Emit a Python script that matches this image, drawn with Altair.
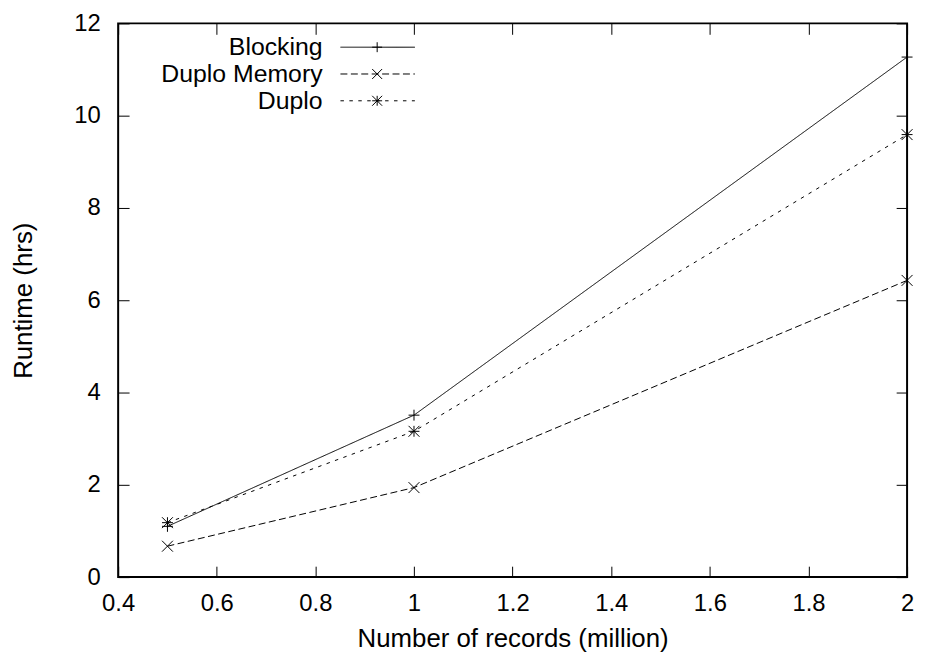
import altair as alt
import pandas as pd

# ---- data ----
records = [0.5, 1.0, 2.0]
blocking = [1.10, 3.51, 11.27]
duplo_memory = [0.67, 1.94, 6.43]
duplo = [1.18, 3.16, 9.59]

series_names = ["Blocking", "Duplo Memory", "Duplo"]
series_values = [blocking, duplo_memory, duplo]

x_ticks = [0.4, 0.6, 0.8, 1.0, 1.2, 1.4, 1.6, 1.8, 2.0]
y_ticks = [0, 2, 4, 6, 8, 10, 12]

# ---- styles ----
FONT = "Liberation Sans"
dashes = [[1, 0], [7, 3.5], [3.5, 5.5]]
PLUS = "M-1,0L1,0M0,-1L0,1"
CROSS = "M-1,-1L1,1M-1,1L1,-1"
STAR = PLUS + CROSS
shapes = [PLUS, CROSS, STAR]

W, H = 795, 558
TICK = 11

xscale = alt.Scale(domain=[0.4, 2.0], nice=False, zero=False)
yscale = alt.Scale(domain=[0, 12], nice=False, zero=True)

x_main = alt.X("x:Q", scale=xscale, axis=alt.Axis(
    values=x_ticks, format="~g", orient="bottom", offset=-TICK, tickSize=TICK,
    domain=False, grid=False, labelPadding=15, labelFontSize=24, labelFont=FONT,
    labelColor="black", tickColor="black", tickWidth=1, title="Number of records (million)",
    titleFont=FONT, titleFontSize=26, titleFontWeight="normal", titleColor="black", titlePadding=10,
    labelFlush=False))
y_main = alt.Y("y:Q", scale=yscale, axis=alt.Axis(
    values=y_ticks, orient="left", offset=-TICK, tickSize=TICK, domain=False, grid=False,
    labelPadding=18, labelFontSize=24, labelFont=FONT, labelColor="black",
    tickColor="black", tickWidth=1, title="Runtime (hrs)", titleFont=FONT,
    titleFontSize=26, titleFontWeight="normal", titleColor="black", titlePadding=38,
    labelFlush=False))

x_mirror = alt.X("x:Q", scale=xscale, axis=alt.Axis(
    values=x_ticks, orient="top", offset=-TICK, tickSize=TICK, domain=False, grid=False,
    labels=False, tickColor="black", tickWidth=1, title=None))
y_mirror = alt.Y("y:Q", scale=yscale, axis=alt.Axis(
    values=y_ticks, orient="right", offset=-TICK, tickSize=TICK, domain=False, grid=False,
    labels=False, tickColor="black", tickWidth=1, title=None))

rows = []
for name, vals in zip(series_names, series_values):
    for xv, yv in zip(records, vals):
        rows.append({"series": name, "x": xv, "y": yv})
df = pd.DataFrame(rows)

layers = []
# axes carrier layers
layers.append(alt.Chart(df).mark_point(opacity=0).encode(x=x_main, y=y_main))
layers.append(alt.Chart(df).mark_point(opacity=0).encode(x=x_mirror, y=y_mirror))

x_plain = alt.X("x:Q", scale=xscale, axis=None)
y_plain = alt.Y("y:Q", scale=yscale, axis=None)

for i, name in enumerate(series_names):
    sub = df[df["series"] == name]
    base = alt.Chart(sub)
    layers.append(base.mark_line(color="black", strokeWidth=1, strokeDash=dashes[i]).encode(
        x=x_plain, y=y_plain))
    layers.append(base.mark_point(shape=shapes[i], filled=False, color="black", size=121,
                                  strokeWidth=1, opacity=1).encode(x=x_plain, y=y_plain))

# legend (gnuplot style, key at top-left)
LX_TEXT, LX0, LX1, LXM = 206, 224, 299, 261
LY0, LDY = 24, 27
for i, name in enumerate(series_names):
    ldf = pd.DataFrame({"name": [name]})
    ly = LY0 + LDY * i
    layers.append(alt.Chart(ldf).mark_text(align="right", baseline="middle", font=FONT,
                                           fontSize=25, color="black").encode(
        x=alt.value(LX_TEXT), y=alt.value(ly), text="name:N"))
    layers.append(alt.Chart(ldf).mark_rule(color="black", strokeWidth=1, strokeDash=dashes[i]).encode(
        x=alt.value(LX0), x2=alt.value(LX1), y=alt.value(ly)))
    layers.append(alt.Chart(ldf).mark_point(shape=shapes[i], filled=False, color="black", size=100,
                                            strokeWidth=1, opacity=1).encode(
        x=alt.value(LXM), y=alt.value(ly)))

chart = alt.layer(*layers).resolve_axis(x="independent", y="independent").properties(
    width=W, height=H,
    autosize="none",
    padding={"left": 111, "top": 13, "right": 10, "bottom": 78},
    background="white",
).configure_view(stroke="black", strokeWidth=2)

chart.save("out.html", embed_options={"renderer": "svg", "actions": False})
